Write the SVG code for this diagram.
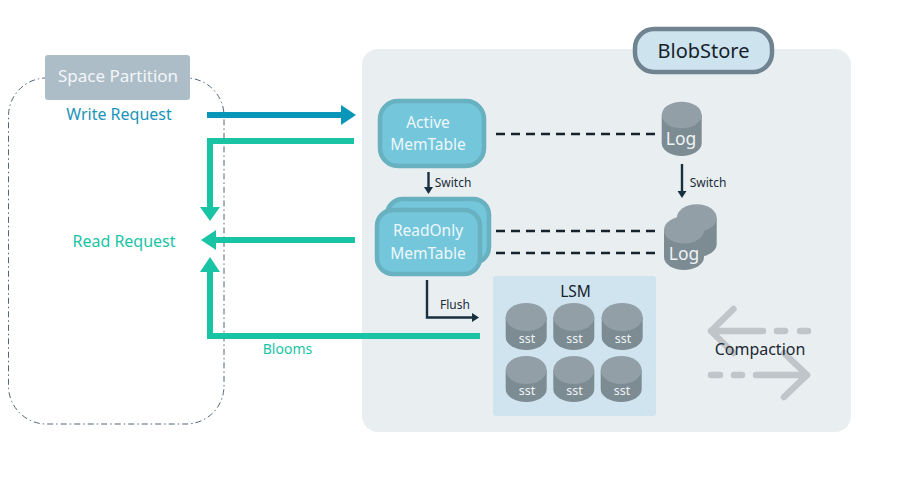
<svg xmlns="http://www.w3.org/2000/svg" width="900" height="494" viewBox="0 0 900 494">
<style>
text{font-family:"Noto Sans","Open Sans","Liberation Sans",sans-serif;text-anchor:middle}
.mem{fill:#74c6db;stroke:#68b1c0;stroke-width:4.5}
.wh{fill:#eef8fb;font-size:15.5px}
.dash{stroke:#16222b;stroke-width:2.6;stroke-dasharray:9 6;fill:none}
.green{stroke:#19c4a4;stroke-width:6;fill:none}
.gf{fill:#19c4a4}
.dk{stroke:#16303f;stroke-width:2.4;fill:none}
.dkf{fill:#16303f}
.cs{fill:#7d8b93}
.ct{fill:#929fa7}
.sst{fill:#eef3f5;font-size:12.5px}
.cp{stroke:#bfc5c8;stroke-width:6.5;stroke-linecap:round;stroke-linejoin:round;fill:none}
.lb{fill:#1c2d38;font-size:12px}
.lg{fill:#eef3f5;font-size:17.5px}
</style>
<rect width="900" height="494" fill="#fff"/>
<g id="space-boundary"><rect x="8.5" y="78" width="215.500" height="346" rx="38" fill="none" stroke="#3f5366" stroke-width="0.9" stroke-dasharray="6 3 1.500 3"/></g>
<g id="blobstore-panel"><rect x="362" y="49" width="489" height="383" rx="16" fill="#e9eef1"/></g>
<g id="blobstore"><rect x="635" y="29" width="137" height="43" rx="19" fill="#cde3ee" stroke="#6f8390" stroke-width="4.500"/><text x="703.500" y="58" fill="#16222b" font-size="20">BlobStore</text></g>
<g id="space-partition"><rect x="45" y="55" width="145" height="45" rx="3" fill="#adbdc8"/><text x="118" y="82" fill="#f2f6f8" font-size="17">Space Partition</text></g>
<g id="write-request"><text x="119" y="120" fill="#1a94b8" font-size="16">Write Request</text></g>
<g id="read-request"><text x="124" y="247" fill="#19c4a4" font-size="16">Read Request</text></g>
<g id="blooms"><text x="287.500" y="354" fill="#19c4a4" font-size="14">Blooms</text></g>
<g id="connectors">
<path d="M207 115H342" stroke="#0a96b8" stroke-width="6" fill="none"/><path d="M341 105L356 115L341 125Z" fill="#0a96b8"/>
<path class="green" d="M354 141H210V208"/><path class="gf" d="M200 207H220L210 221Z"/>
<path class="green" d="M355 240H215"/><path class="gf" d="M216 230V250L201 240Z"/>
<path class="green" d="M480 336H210V271"/><path class="gf" d="M200 272H220L210 257Z"/>
<path class="dash" d="M496 134H655M496 231H655M496 253H655"/>
<path class="dk" d="M428.500 172V188"/><path class="dkf" d="M424 187H433L428.500 194Z"/>
<path class="dk" d="M682 164V192"/><path class="dkf" d="M677.500 191H686.500L682 198Z"/>
<path class="dk" d="M427 280V317.500H473"/><path class="dkf" d="M472 313V322L479 317.500Z"/>
<path class="cp" d="M733.500 309L711 331L733.500 353M711 331H763M777 331H785M800 331H808"/>
<path class="cp" d="M784 353L807 375L784 397M807 375H756M742 375H734M720 375H711"/>
</g>
<g id="active-memtable"><rect class="mem" x="380" y="101" width="104" height="65" rx="18"/><text class="wh" x="428" y="128">Active</text><text class="wh" x="428" y="150">MemTable</text></g>
<g id="readonly-memtable"><rect class="mem" x="387" y="199" width="102" height="64" rx="16"/><rect class="mem" x="377" y="210" width="103" height="64" rx="16"/><text class="wh" x="428" y="236">ReadOnly</text><text class="wh" x="428" y="259">MemTable</text></g>
<g id="log"><path class="cs" d="M661.700 115V143A20 13 0 0 0 701.700 143V115Z"/><ellipse class="ct" cx="681.700" cy="115" rx="20" ry="13.300"/><text class="lg" x="681" y="145">Log</text></g>
<g id="log-stack"><path class="cs" d="M676.700 218V244A20 13 0 0 0 716.700 244V218Z"/><ellipse class="ct" cx="696.700" cy="218" rx="20" ry="13.800"/><path class="cs" d="M664 230V257A20 13 0 0 0 704 257V230Z"/><ellipse class="ct" cx="684" cy="230" rx="20" ry="13.500"/><text class="lg" x="684" y="260">Log</text></g>
<g id="lsm"><rect x="493" y="276" width="163" height="140" rx="3" fill="#cfe4ef"/><text x="575.500" y="297" fill="#16222b" font-size="15.500">LSM</text>
<g><path class="cs" d="M505.700 317V337A20.500 13 0 0 0 546.700 337V317Z"/><ellipse class="ct" cx="526.200" cy="317" rx="20.500" ry="14"/><text class="sst" x="527" y="343">sst</text></g>
<g><path class="cs" d="M553.300 317V337A20.500 13 0 0 0 594.300 337V317Z"/><ellipse class="ct" cx="573.800" cy="317" rx="20.500" ry="14"/><text class="sst" x="574.500" y="343">sst</text></g>
<g><path class="cs" d="M601.700 317V337A20.500 13 0 0 0 642.700 337V317Z"/><ellipse class="ct" cx="622.200" cy="317" rx="20.500" ry="14"/><text class="sst" x="623" y="343">sst</text></g>
<g><path class="cs" d="M505.700 370V389A20.500 13 0 0 0 546.700 389V370Z"/><ellipse class="ct" cx="526.200" cy="370" rx="20.500" ry="14"/><text class="sst" x="527" y="395">sst</text></g>
<g><path class="cs" d="M553.300 370V389A20.500 13 0 0 0 594.300 389V370Z"/><ellipse class="ct" cx="573.800" cy="370" rx="20.500" ry="14"/><text class="sst" x="574.500" y="395">sst</text></g>
<g><path class="cs" d="M600.700 370V389A20.500 13 0 0 0 641.700 389V370Z"/><ellipse class="ct" cx="621.200" cy="370" rx="20.500" ry="14"/><text class="sst" x="622" y="395">sst</text></g>
</g>
<g id="labels"><text class="lb" x="453" y="187">Switch</text><text class="lb" x="708" y="187">Switch</text><text class="lb" x="455" y="309">Flush</text><text x="760" y="355" fill="#1c2a33" font-size="16">Compaction</text></g>
</svg>
